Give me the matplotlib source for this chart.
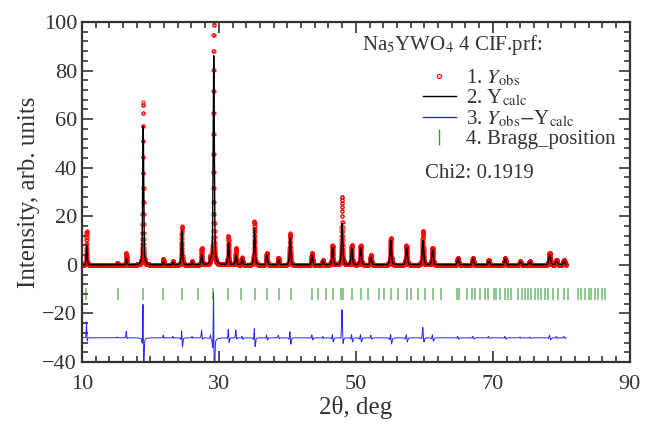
import numpy as np
import matplotlib.pyplot as plt
from matplotlib.lines import Line2D
from matplotlib.ticker import MultipleLocator

plt.rcParams['font.family'] = ['Liberation Serif', 'DejaVu Serif']
plt.rcParams['mathtext.fontset'] = 'stix'

# reflections: position (deg), calculated and observed peak heights
peak_pos = [10.7, 15.2, 16.5, 18.95, 21.9, 23.3, 24.6, 26.1, 27.5, 28.8,
            29.25, 31.4, 32.5, 33.4, 35.2, 37.0, 38.7, 40.4, 43.6, 45.2,
            46.6, 48.0, 49.4, 50.7, 52.2, 55.1, 57.4, 59.8, 61.2, 64.9,
            67.1, 69.4, 71.8, 74.0, 75.4, 78.3, 79.3, 80.4]
peak_calc = [8, 0.5, 2.5, 57, 1.5, 1, 14, 1, 4, 1.5,
             86, 9, 4, 2.5, 15, 4, 2, 11, 4, 1.5,
             7, 17, 7, 7, 3, 10, 7, 10, 6, 2.5,
             2.5, 1.5, 2.5, 1.2, 1.2, 4, 1.5, 1.5]
peak_obs = [14, 0.8, 5, 67, 2.5, 1.5, 16, 1.5, 7, 3,
            100, 12, 7, 3, 18, 5, 3, 13, 5, 2,
            8, 28, 8, 8, 4, 11, 8, 14, 7, 3,
            3, 2, 3, 1.5, 1.5, 5, 2, 2]

# Bragg reflection positions
bragg_pos = [10.6, 15.2, 18.9, 21.9, 24.6, 27.0, 29.2, 31.4, 33.3, 35.2,
             37.0, 38.8, 40.5, 43.6, 44.5, 45.7, 46.7, 47.9, 48.06, 49.4,
             50.7, 51.8, 53.4, 54.1, 55.2, 56.2, 57.4, 58.1, 59.1, 60.1,
             61.3, 62.5, 64.7, 65.1, 66.2, 66.9, 67.4, 68.1, 68.8, 69.3,
             70.1, 70.5, 71.0, 71.8, 72.2, 72.7, 73.7, 74.2, 74.7, 75.2,
             75.6, 76.1, 76.6, 77.1, 77.6, 78.1, 78.8, 79.5, 80.4, 81.0,
             82.4, 82.9, 83.4, 84.0, 84.4, 84.9, 85.4, 85.9, 86.4]

diff_offset = -30
two_theta = np.arange(10.0, 80.7, 0.01)


def profile(x, pos, heights, shift=0.0, wscale=1.0):
    y = np.zeros_like(x)
    for p, h in zip(pos, heights):
        w = (0.16 + 0.002 * (p - 10)) * wscale
        d = (x - p - shift) / w
        y += h * (0.6 * np.exp(-4 * np.log(2) * d**2) + 0.4 / (1 + 4 * d**2))
    return y


y_calc = profile(two_theta, peak_pos, peak_calc)
y_obs = profile(two_theta, peak_pos, peak_obs, shift=-0.02, wscale=0.75)
y_diff = y_obs - y_calc + diff_offset

fig = plt.figure(figsize=(6.5, 4.3), dpi=100)
ax = fig.add_axes([0.126, 0.158, 0.843, 0.791])

ax.plot(two_theta, y_obs, 'o', ms=2.3, mfc='none', mec='red', mew=0.7)
ax.plot(two_theta, y_calc, color='black', lw=1.0)
ax.plot(two_theta, y_diff, color='#2525ff', lw=0.7)
ax.vlines(bragg_pos, -14.5, -9.5, color='#138a13', lw=1.1, alpha=0.6)

ax.set_xlim(10, 90)
ax.set_ylim(-40, 100)
ax.xaxis.set_major_locator(MultipleLocator(20, offset=10))
ax.xaxis.set_minor_locator(MultipleLocator(2))
ax.yaxis.set_major_locator(MultipleLocator(20))
ax.yaxis.set_minor_locator(MultipleLocator(4))
ax.tick_params(which='both', direction='in', top=True, right=True,
               labelsize=16, colors='#333333', width=1.2)
ax.tick_params(which='major', length=8)
ax.tick_params(which='minor', length=4)
ax.tick_params(axis='x', pad=9)
for s in ax.spines.values():
    s.set_linewidth(1.6)
    s.set_color('#333333')

ax.set_xlabel('2θ, deg', fontsize=18, color='#333333', labelpad=2)
ax.set_ylabel('Intensity, arb. units', fontsize=18, color='#333333', labelpad=2)

handles = [
    Line2D([], [], ls='none', marker='o', ms=3, mfc='none', mec='red', mew=0.8),
    Line2D([], [], color='black', lw=1.0),
    Line2D([], [], color='#2525ff', lw=1.0),
    Line2D([], [], ls='none', marker='|', ms=12, mec='#2ca02c', mew=1.0),
]
labels = ['1. $Y_{\\mathrm{obs}}$', '2. Y$_{\\mathrm{calc}}$',
          '3. $Y_{\\mathrm{obs}}$$-$Y$_{\\mathrm{calc}}$', '4. Bragg_position']
ax.legend(handles, labels, loc='upper left', bbox_to_anchor=(0.595, 0.91),
          frameon=False, fontsize=15, handlelength=1.6, handletextpad=0.5,
          labelspacing=0.0, borderpad=0.2, labelcolor='#333333')
ax.text(0.511, 0.932, 'Na$_5$YWO$_4$ 4 CIF.prf:', transform=ax.transAxes,
        fontsize=15, color='#333333', va='center')
ax.text(0.626, 0.555, 'Chi2: 0.1919', transform=ax.transAxes,
        fontsize=15, color='#333333', va='center')

fig.savefig('out.png', dpi=100)
